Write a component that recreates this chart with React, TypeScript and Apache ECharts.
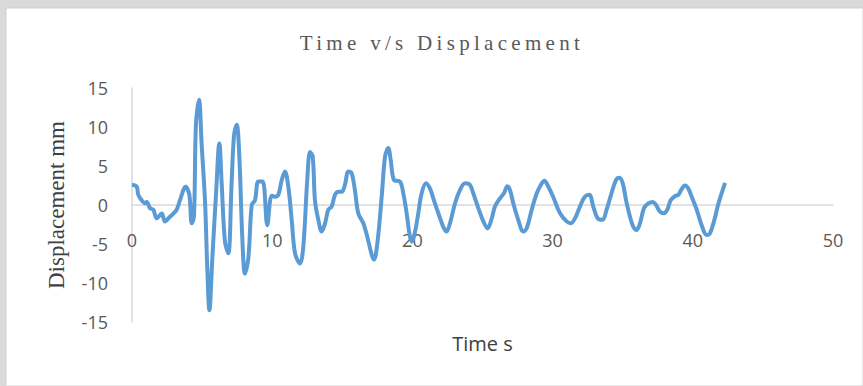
import React, { useEffect, useRef } from "react";
import * as echarts from "echarts";

const chartTitle = "Time v/s Displacement";
const xAxisName = "Time s";
const yAxisName = "Displacement mm";

const timeValues = [
  0.0, 0.33, 0.45, 0.69, 0.93, 1.05, 1.28, 1.52, 1.76, 2.12, 2.35, 2.71, 2.95, 3.19, 3.42, 3.83, 4.09, 4.26, 4.42,
  4.56, 4.78, 4.97, 5.21, 5.37, 5.52, 5.73, 5.99, 6.23, 6.4, 6.63, 6.87, 7.1, 7.28, 7.47, 7.66, 7.87, 8.06, 8.3,
  8.54, 8.77, 9.01, 9.32, 9.65, 9.96, 10.2, 10.44, 10.68, 10.91, 11.15, 11.39, 11.63, 11.98, 12.22, 12.5, 12.7,
  12.89, 13.05, 13.29, 13.53, 13.77, 14.0, 14.24, 14.48, 14.72, 14.96, 15.19, 15.43, 15.67, 15.9, 16.14, 16.5,
  16.78, 17.1, 17.26, 17.5, 17.81, 18.05, 18.28, 18.45, 18.69, 19.12, 19.35, 19.59, 19.78, 19.95, 20.19, 20.42,
  20.66, 20.97, 21.26, 21.49, 21.85, 22.2, 22.44, 22.68, 23.04, 23.39, 23.75, 24.1, 24.34, 24.7, 25.06, 25.37,
  25.66, 25.89, 26.25, 26.53, 26.77, 26.96, 27.2, 27.55, 27.91, 28.15, 28.51, 28.87, 29.17, 29.41, 29.7, 30.05,
  30.53, 31.0, 31.29, 31.6, 31.95, 32.3, 32.62, 32.9, 33.21, 33.57, 33.85, 34.2, 34.52, 34.76, 35.0, 35.24, 35.52,
  35.76, 36.0, 36.23, 36.52, 36.83, 37.14, 37.38, 37.66, 37.95, 38.18, 38.42, 38.73, 38.97, 39.16, 39.44, 39.68,
  39.92, 40.28, 40.63, 40.99, 41.23, 41.54, 41.83, 42.3,
];

const displacementValues = [
  2.6, 2.35, 1.3, 0.6, 0.2, 0.4, -0.4, -0.6, -1.7, -1.1, -2.1, -1.5, -1.1, -0.6, 0.6, 2.35, 1.3, -2.35, -1.5,
  10.3, 13.5, 7.7, 0.4, -8.1, -13.5, -6.8, 1.3, 7.9, 2.6, -4.7, -6.2, 2.6, 9.0, 10.3, 6.0, -4.3, -8.8, -6.8,
  0, 0.6, 3.0, 3.0, -2.6, 1.2, 1.06, 1.3, 3.2, 4.3, 2.35, -1.9, -6.2, -7.5, -5.3, 3.2, 6.8,
  6.2, 0.6, -1.9, -3.4, -2.35, -0.6, -0.2, 1.3, 1.7, 1.7, 2.6, 4.3, 4.06, 1.9, -1.06, -2.35,
  -4.06, -6.4, -7.0, -4.9, 1.06, 6.2, 7.3, 5.8, 3.2, 3.0, 1.5, -1.06, -3.6, -4.7, -3.4, -1.06,
  1.5, 2.8, 2.1, 0.86, -1.06, -2.8, -3.4, -2.35, 0.2, 1.9, 2.8, 2.6, 1.5, -0.4, -2.1, -3.0,
  -1.7, -0.2, 0.86, 1.5, 2.4, 1.9, 0.2, -1.9, -3.4, -3.0, -0.6, 1.5, 2.6, 3.1, 2.35, 1.0,
  -1.06, -2.1, -2.35, -1.7, -0.2, 1.06, 1.3, -0.2, -1.7, -1.9, -0.6, 1.5, 3.2, 3.5, 2.8, 0.6, -1.5,
  -2.8, -3.2, -2.35, -0.4, 0.2, 0.4, 0, -0.86, -1.06, -0.6, 0.6, 1.15, 1.3, 1.9, 2.5, 2.1,
  1.06, -0.6, -2.6, -3.85, -3.6, -1.9, 0.2, 2.85,
];

const xMin = 0;
const xMax = 50;
const xStep = 10;
const yMin = -15;
const yMax = 15;
const yStep = 5;

export default function App() {
  const ref = useRef<HTMLDivElement>(null);

  useEffect(() => {
    if (!ref.current) return;
    const chart = echarts.init(ref.current, undefined, { renderer: "svg" });
    const data = timeValues.map((t, i) => [t, displacementValues[i]]);
    chart.setOption({
      animation: false,
      backgroundColor: "#dadada",
      graphic: [
        {
          type: "rect",
          z: -10,
          silent: true,
          shape: { x: 6, y: 8, width: 857, height: 378 },
          style: { fill: "#ffffff", stroke: "#cfcfcf", lineWidth: 1 },
        },
        {
          type: "text",
          z: 10,
          silent: true,
          x: 442,
          y: 43,
          style: {
            text: chartTitle,
            align: "center",
            verticalAlign: "middle",
            fontFamily: "Liberation Serif",
            fontSize: 21,
            fill: "#595959",
          },
        },
      ],
      grid: {
        left: 132,
        right: 30,
        top: 88,
        bottom: 64,
        containLabel: false,
        outerBoundsMode: "none",
      },
      xAxis: {
        type: "value",
        position: "bottom",
        offset: -117,
        min: xMin,
        max: xMax,
        interval: xStep,
        name: xAxisName,
        nameLocation: "middle",
        nameGap: 128,
        nameTextStyle: { fontFamily: "Open Sans", fontSize: 20, color: "#404040" },
        axisLine: { onZero: false, lineStyle: { color: "#d9d9d9", width: 1.5 } },
        axisTick: { show: false },
        splitLine: { show: false },
        axisLabel: { margin: 26, fontFamily: "Open Sans", fontSize: 18, color: "#595959" },
      },
      yAxis: {
        type: "value",
        min: yMin,
        max: yMax,
        interval: yStep,
        name: yAxisName,
        nameLocation: "middle",
        nameRotate: 90,
        nameGap: 64,
        nameTextStyle: { fontFamily: "Liberation Serif", fontSize: 23, color: "#404040" },
        axisLine: { show: true, onZero: false, lineStyle: { color: "#d9d9d9", width: 1.5 } },
        axisTick: { show: false },
        splitLine: { show: false },
        axisLabel: { margin: 24, fontFamily: "Open Sans", fontSize: 18, color: "#595959" },
      },
      series: [
        {
          type: "line",
          data,
          showSymbol: false,
          smooth: 0.35,
          lineStyle: { color: "#5b9bd5", width: 4 },
          itemStyle: { color: "#5b9bd5" },
          z: 5,
        },
      ],
    });
    const texts = ref.current.querySelectorAll("text");
    texts.forEach((el) => {
      if (el.textContent === chartTitle) {
        (el as SVGTextElement).style.letterSpacing = "4.3px";
      }
    });
    return () => chart.dispose();
  }, []);

  return (
    <div
      ref={ref}
      style={{ position: "absolute", left: 0, top: 0, width: 863, height: 386 }}
    />
  );
}
